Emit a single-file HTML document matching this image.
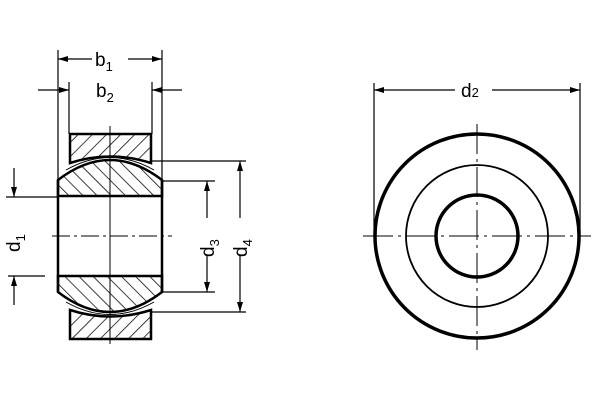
<!DOCTYPE html>
<html><head><style>html,body{margin:0;padding:0;background:#fff}svg{display:block}</style></head>
<body>
<svg width="600" height="403" viewBox="0 0 600 403" xmlns="http://www.w3.org/2000/svg" font-family="Liberation Sans, sans-serif">
<defs>
<pattern id="h1" patternUnits="userSpaceOnUse" width="10" height="10" patternTransform="rotate(45)"><line x1="0" y1="0" x2="0" y2="10" stroke="#000" stroke-width="1.5"/></pattern>
<pattern id="h2" patternUnits="userSpaceOnUse" width="10" height="10" patternTransform="rotate(-45)"><line x1="0" y1="0" x2="0" y2="10" stroke="#000" stroke-width="1.5"/></pattern>
<marker id="a" viewBox="0 0 10 6" refX="10" refY="3" markerWidth="11" markerHeight="6" orient="auto" markerUnits="userSpaceOnUse"><path d="M0,0 L10,3 L0,6z" fill="#000"/></marker>
</defs>
<g stroke="#000" fill="none">
<path d="M70,134 H151 V163 Q110,150 70,163 Z" fill="url(#h1)" stroke-width="2.5"/>
<path d="M70,339 H151 V310 Q110,323 70,310 Z" fill="url(#h1)" stroke-width="2.5"/>
<path d="M58,196 V180 Q110,140 162,180 V196 Z" fill="url(#h2)" stroke-width="2.5"/>
<path d="M58,276 V292 Q110,332 162,292 V276 Z" fill="url(#h2)" stroke-width="2.5"/>
<path d="M58,180 V292 M162,180 V292" stroke-width="2.5"/>
<path d="M58,196 H162 M58,276 H162" stroke-width="1.5"/>
<path d="M66,170 Q110,145 154,170 M66,302 Q110,327 154,302" stroke-width="1"/>
<path d="M110,126 V344" stroke-width="1"/>
<path d="M52,236 H172" stroke-width="1" stroke-dasharray="18,4,3,4"/>
<path d="M58,50 V180 M162,50 V180 M69,82 V134 M152,82 V134" stroke-width="1.2"/>
<path d="M92,59 H58" stroke-width="1.2" marker-end="url(#a)"/>
<path d="M128,59 H162" stroke-width="1.2" marker-end="url(#a)"/>
<path d="M38,90 H69" stroke-width="1.2" marker-end="url(#a)"/>
<path d="M182,90 H152" stroke-width="1.2" marker-end="url(#a)"/>
<path d="M6,197 H58 M8,276 H45" stroke-width="1.2"/>
<path d="M14,168 V197" stroke-width="1.2" marker-end="url(#a)"/>
<path d="M14,305 V276" stroke-width="1.2" marker-end="url(#a)"/>
<path d="M162,181 H215 M162,292 H215" stroke-width="1.2"/>
<path d="M207,218 V181" stroke-width="1.2" marker-end="url(#a)"/>
<path d="M207,255 V292" stroke-width="1.2" marker-end="url(#a)"/>
<path d="M152,161 H246 M152,312 H246" stroke-width="1.2"/>
<path d="M240,218 V161" stroke-width="1.2" marker-end="url(#a)"/>
<path d="M240,255 V312" stroke-width="1.2" marker-end="url(#a)"/>
<circle cx="477" cy="236" r="102" stroke-width="3.5"/>
<circle cx="477" cy="236" r="71" stroke-width="1.8"/>
<circle cx="477" cy="236" r="41" stroke-width="3.5"/>
<path d="M363,236 H591" stroke-width="1" stroke-dasharray="30,5,3,5"/>
<path d="M477,124 V350" stroke-width="1" stroke-dasharray="30,5,3,5"/>
<path d="M374,83 V236 M580,83 V236" stroke-width="1.2"/>
<path d="M455,90 H374" stroke-width="1.2" marker-end="url(#a)"/>
<path d="M492,90 H580" stroke-width="1.2" marker-end="url(#a)"/>
</g>
<g font-size="19" fill="#000">
<text x="95" y="66">b<tspan font-size="13" dy="5">1</tspan></text>
<text x="96" y="97">b<tspan font-size="13" dy="5">2</tspan></text>
<text x="461" y="97">d<tspan font-size="13">2</tspan></text>
<text transform="translate(20,252) rotate(-90)">d<tspan font-size="13" dy="5">1</tspan></text>
<text transform="translate(214,257) rotate(-90)">d<tspan font-size="13" dy="5">3</tspan></text>
<text transform="translate(247,257) rotate(-90)">d<tspan font-size="13" dy="5">4</tspan></text>
</g>
</svg>
</body></html>
